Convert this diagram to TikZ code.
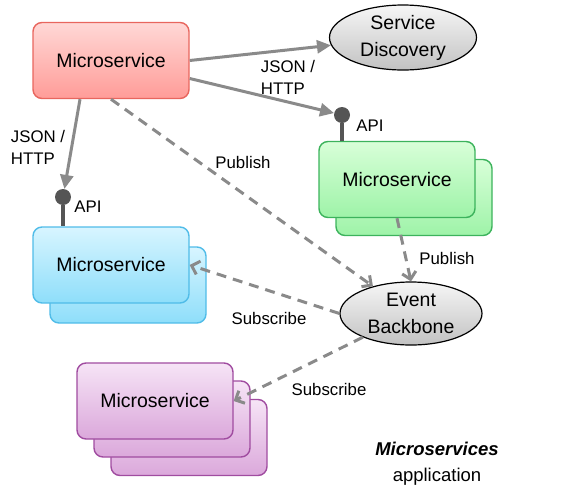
\documentclass[tikz,border=0pt]{standalone}
\usepackage{fontspec}
\setmainfont{Liberation Sans}
\usetikzlibrary{arrows.meta, shapes, positioning}

\definecolor{redtop}{HTML}{FFD8D6}
\definecolor{redbot}{HTML}{FF9C98}
\definecolor{redline}{HTML}{E8665E}
\definecolor{bluetop}{HTML}{D8F5FF}
\definecolor{bluebot}{HTML}{8EDEFA}
\definecolor{blueline}{HTML}{50BCE8}
\definecolor{greentop}{HTML}{D8FFD8}
\definecolor{greenbot}{HTML}{9EF3A8}
\definecolor{greenline}{HTML}{3CB35C}
\definecolor{purptop}{HTML}{F6E4F6}
\definecolor{purpbot}{HTML}{DBA8DB}
\definecolor{purpline}{HTML}{A04CA0}
\definecolor{greytop}{HTML}{F6F6F6}
\definecolor{greybot}{HTML}{C2C2C2}
\definecolor{linkgrey}{HTML}{8A8A8A}
\definecolor{apigrey}{HTML}{555555}

\tikzset{
  msbox/.style={rectangle, rounded corners=9pt, minimum width=156pt, minimum height=76pt,
    inner sep=0pt, line width=1.4pt, font=\fontsize{19.5}{23}\selectfont},
  redbox/.style={msbox, draw=redline, top color=redtop, bottom color=redbot},
  bluebox/.style={msbox, draw=blueline, top color=bluetop, bottom color=bluebot},
  greenbox/.style={msbox, draw=greenline, top color=greentop, bottom color=greenbot},
  purpbox/.style={msbox, draw=purpline, top color=purptop, bottom color=purpbot},
  hub/.style={ellipse, draw=black, line width=1.2pt, top color=greytop, bottom color=greybot,
    inner sep=0pt, align=center, font=\fontsize{19.5}{27}\selectfont},
  apidot/.style={circle, fill=apigrey, minimum size=16pt, inner sep=0pt},
  lbl/.style={align=left, font=\fontsize{16.8}{22}\selectfont},
  call/.style={draw=linkgrey, line width=3pt, -{Triangle[length=14pt,width=13pt]}},
  event/.style={draw=linkgrey, line width=3pt, dash pattern=on 10pt off 7pt,
    -{Straight Barb[length=7pt,width=14pt]}},
  stem/.style={draw=apigrey, line width=3.2pt}
}

\begin{document}
\begin{tikzpicture}[x=1pt, y=-1pt]
    \useasboundingbox (0,0) rectangle (576,501);

    % nodes %
      \node[redbox] (ms-red) at (111,60.5) {Microservice};
      \node[hub, minimum width=147pt, minimum height=65pt] (sd) at (403,37.5) {Service\\Discovery};

      \node[bluebox] (ms-blue-back) at (128,285) {};
      \node[bluebox] (ms-blue) at (111,265) {Microservice};

      \node[greenbox] (ms-green-back) at (414,197.5) {};
      \node[greenbox] (ms-green) at (397,179.5) {Microservice};

      \node[purpbox] (ms-purp-back2) at (189,437.5) {};
      \node[purpbox] (ms-purp-back1) at (172,419) {};
      \node[purpbox] (ms-purp) at (155,401) {Microservice};

      \node[hub, minimum width=142pt, minimum height=63pt] (eb) at (411,313.5) {Event\\Backbone};

      \node[apidot] (api-blue) at (63,197) {};
      \node[apidot] (api-green) at (342,115) {};
      \node[lbl] (api-blue-lbl) at (88,207) {API};
      \node[lbl] (api-green-lbl) at (370,126) {API};

      \node[lbl] (json-left) at (38,147) {JSON /\\HTTP};
      \node[lbl] (json-right) at (288,77) {JSON /\\HTTP};
      \node[lbl] (pub-red) at (243,162) {Publish};
      \node[lbl] (pub-green) at (447,258) {Publish};
      \node[lbl] (sub-blue) at (269,318) {Subscribe};
      \node[lbl] (sub-purp) at (329,389) {Subscribe};

      \node[align=center, font=\fontsize{18.5}{26}\selectfont] (title) at (437,464)
        {\textbf{\textit{Microservices}}\\application};

      % edges %
      \draw[stem] (api-blue) -- (api-blue |- ms-blue.north);
      \draw[stem] (api-green) -- (api-green |- ms-green.north);

      \draw[call] (ms-red.east) -- (sd);
      \draw[call] ([yshift=-18pt]ms-red.east) -- (api-green);
      \draw[call] ([xshift=-31pt]ms-red.south) -- (api-blue);

      \draw[event] (ms-red.south) -- (eb);
      \draw[event] (ms-green.south) -- (eb.north);
      \draw[event] (eb.west) -- (ms-blue.east);
      \draw[event] (eb) -- (ms-purp.east);
    \end{tikzpicture}
\end{document}
